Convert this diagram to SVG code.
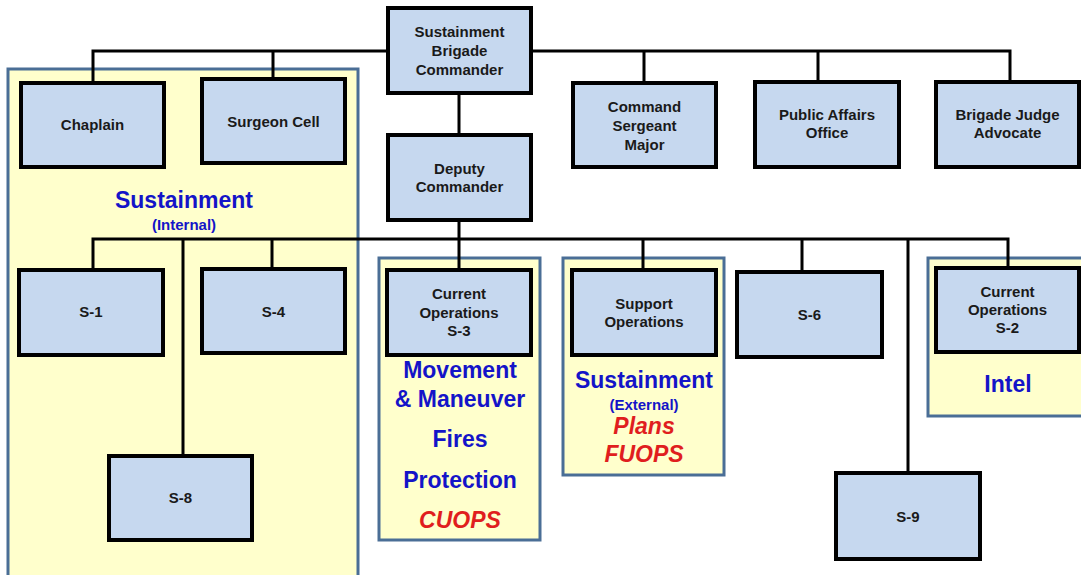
<svg xmlns="http://www.w3.org/2000/svg" width="1081" height="575" viewBox="0 0 1081 575">
<style>
.panel{fill:#ffffcc;stroke:#4a6e96;stroke-width:3}
.node{fill:#c6d8ef;stroke:#000;stroke-width:4}
.lbl{font-family:"Liberation Sans",Arial,sans-serif;font-weight:bold;font-size:15px;fill:#1a1a1a;text-anchor:middle}
.big{font-family:"Liberation Sans",Arial,sans-serif;font-weight:bold;font-size:23px;fill:#1414c8;text-anchor:middle}
.sub{font-family:"Liberation Sans",Arial,sans-serif;font-weight:bold;font-size:15px;fill:#1414c8;text-anchor:middle}
.red{font-family:"Liberation Sans",Arial,sans-serif;font-weight:bold;font-style:italic;font-size:23px;fill:#e01e1e;text-anchor:middle}
.conn{stroke:#000;stroke-width:3;fill:none}
</style>
<rect width="1081" height="575" fill="#ffffff"/>
<g id="panels">
<rect id="panel-internal" class="panel" x="8" y="69" width="350" height="520"/>
<rect id="panel-s3" class="panel" x="379" y="258" width="161" height="282"/>
<rect id="panel-spo" class="panel" x="563" y="258" width="161" height="217"/>
<rect id="panel-s2" class="panel" x="928" y="258" width="170" height="158"/>
</g>
<g id="panel-labels">
<text class="big" x="184" y="208">Sustainment</text>
<text class="sub" x="184" y="230">(Internal)</text>
<text class="big" x="460" y="378">Movement</text>
<text class="big" x="460" y="407">&amp; Maneuver</text>
<text class="big" x="460" y="447">Fires</text>
<text class="big" x="460" y="488">Protection</text>
<text class="red" x="460" y="528">CUOPS</text>
<text class="big" x="644" y="388">Sustainment</text>
<text class="sub" x="644" y="410">(External)</text>
<text class="red" x="644" y="434">Plans</text>
<text class="red" x="644" y="462">FUOPS</text>
<text class="big" x="1008" y="392">Intel</text>
</g>
<g id="connectors">
<path class="conn" d="M93,83 V51 H1010 V82 M273,51 V79 M644,51 V83 M818,51 V82"/>
<path class="conn" d="M459,93 V135 M459,220 V239"/>
<path class="conn" d="M93,270 V239 H1008 V268 M183,239 V456 M272,239 V269 M459,239 V270 M643,239 V270 M802,239 V272 M908,239 V473"/>
</g>
<g id="node-commander"><rect class="node" x="388" y="8" width="143" height="85"/>
<text class="lbl" x="459.5" y="37">Sustainment</text><text class="lbl" x="459.5" y="56">Brigade</text><text class="lbl" x="459.5" y="75">Commander</text></g>
<g id="node-chaplain"><rect class="node" x="21" y="83" width="143" height="84"/>
<text class="lbl" x="92.5" y="130">Chaplain</text></g>
<g id="node-surgeon"><rect class="node" x="202" y="79" width="143" height="84"/>
<text class="lbl" x="273.5" y="127">Surgeon Cell</text></g>
<g id="node-csm"><rect class="node" x="573" y="83" width="143" height="84"/>
<text class="lbl" x="644.5" y="112">Command</text><text class="lbl" x="644.5" y="131">Sergeant</text><text class="lbl" x="644.5" y="150">Major</text></g>
<g id="node-pao"><rect class="node" x="755" y="82" width="144" height="85"/>
<text class="lbl" x="827" y="120">Public Affairs</text><text class="lbl" x="827" y="138">Office</text></g>
<g id="node-bja"><rect class="node" x="936" y="82" width="143" height="85"/>
<text class="lbl" x="1007.5" y="120">Brigade Judge</text><text class="lbl" x="1007.5" y="138">Advocate</text></g>
<g id="node-deputy"><rect class="node" x="388" y="135" width="143" height="85"/>
<text class="lbl" x="459.5" y="174">Deputy</text><text class="lbl" x="459.5" y="192">Commander</text></g>
<g id="node-s1"><rect class="node" x="19" y="270" width="144" height="85"/>
<text class="lbl" x="91" y="317">S-1</text></g>
<g id="node-s4"><rect class="node" x="202" y="269" width="143" height="84"/>
<text class="lbl" x="273.5" y="317">S-4</text></g>
<g id="node-s8"><rect class="node" x="109" y="456" width="143" height="84"/>
<text class="lbl" x="180.5" y="503">S-8</text></g>
<g id="node-s3"><rect class="node" x="387" y="270" width="144" height="85"/>
<text class="lbl" x="459" y="299">Current</text><text class="lbl" x="459" y="318">Operations</text><text class="lbl" x="459" y="336">S-3</text></g>
<g id="node-spo"><rect class="node" x="572" y="270" width="144" height="85"/>
<text class="lbl" x="644" y="309">Support</text><text class="lbl" x="644" y="327">Operations</text></g>
<g id="node-s6"><rect class="node" x="737" y="272" width="145" height="85"/>
<text class="lbl" x="809.5" y="320">S-6</text></g>
<g id="node-s2"><rect class="node" x="936" y="268" width="143" height="84"/>
<text class="lbl" x="1007.5" y="297">Current</text><text class="lbl" x="1007.5" y="315">Operations</text><text class="lbl" x="1007.5" y="333">S-2</text></g>
<g id="node-s9"><rect class="node" x="836" y="473" width="144" height="86"/>
<text class="lbl" x="908" y="522">S-9</text></g>
</svg>
